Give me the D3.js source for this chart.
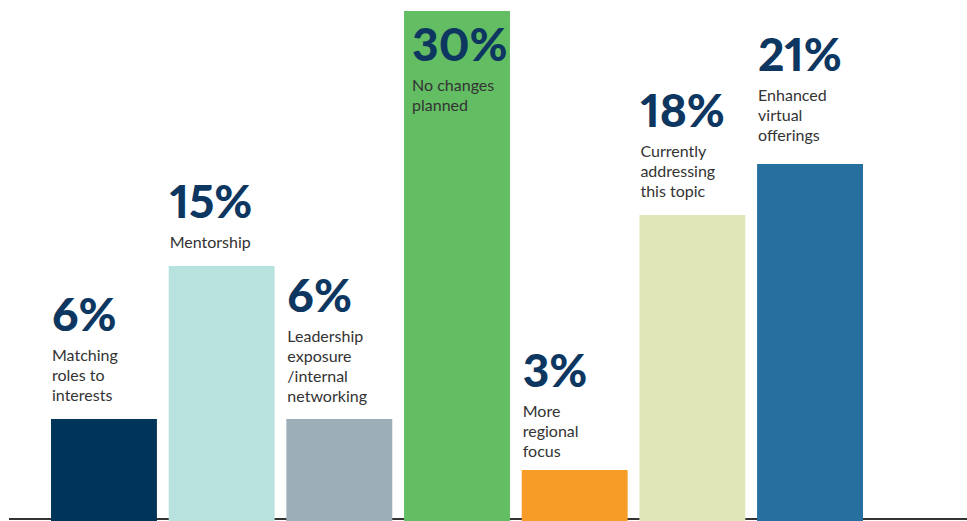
<!DOCTYPE html>
<html>
<head>
<meta charset="utf-8">
<script src="https://cdn.jsdelivr.net/npm/d3@7"></script>
<style>
  html, body { margin: 0; padding: 0; background: #fff; }
  svg { display: block; }
  .pct { font-variant-numeric: proportional-nums; font-feature-settings: "pnum" 1; }
</style>
</head>
<body>
<svg id="chart" width="967" height="521"></svg>
<script>
// Share of respondents by planned change
const categories = [
  "Matching roles to interests",
  "Mentorship",
  "Leadership exposure/internal networking",
  "No changes planned",
  "More regional focus",
  "Currently addressing this topic",
  "Enhanced virtual offerings"
];
const values = [6, 15, 6, 30, 3, 18, 21];
const labelLines = [
  ["Matching", "roles to", "interests"],
  ["Mentorship"],
  ["Leadership", "exposure", "/internal", "networking"],
  ["No changes", "planned"],
  ["More", "regional", "focus"],
  ["Currently", "addressing", "this topic"],
  ["Enhanced", "virtual", "offerings"]
];
const colors = ["#003459", "#b8e2de", "#9caeb6", "#63bd63", "#f89c28", "#e0e6b8", "#266f9e"];

const W = 967, H = 521;
const svg = d3.select("#chart");

const x = d3.scaleBand().domain(categories).range([51, 863]).paddingInner(0.1).paddingOuter(0);
const y = d3.scaleLinear().domain([0, 30]).range([H, 11]);

// baseline
svg.append("line")
  .attr("x1", 9).attr("x2", W)
  .attr("y1", 519).attr("y2", 519)
  .attr("stroke", "#333").attr("stroke-width", 2);

// bars
svg.append("g").selectAll("rect")
  .data(categories)
  .join("rect")
  .attr("x", d => x(d))
  .attr("y", (d, i) => y(values[i]))
  .attr("width", x.bandwidth())
  .attr("height", (d, i) => y(0) - y(values[i]))
  .attr("fill", (d, i) => colors[i]);

// labels: percentage above the description; inside the bar for the tallest one
const maxVal = d3.max(values);
const lineH = 20;
const pctToText = 30;
// space between the last description line and the bar top
const gapAbove = [18, 18, 17, 0, 13, 18, 23];

const labels = svg.append("g").selectAll("g")
  .data(categories)
  .join("g")
  .attr("transform", (d, i) => {
    const top = y(values[i]);
    const n = labelLines[i].length;
    const inside = values[i] === maxVal;
    const pctBase = inside ? top + 50 : top - gapAbove[i] - (n - 1) * lineH - pctToText;
    const dx = inside ? 8 : 1;
    return `translate(${x(d) + dx},${pctBase})`;
  });

labels.append("text")
  .attr("class", "pct")
  .attr("x", 0).attr("y", 0)
  .attr("font-family", "Lato, 'Open Sans', sans-serif")
  .attr("font-weight", 900)
  .attr("font-size", 46)
  .attr("fill", "#0d3761")
  .text((d, i) => values[i] + "%");

labels.each(function(d, i) {
  const t = d3.select(this).append("text")
    .attr("font-family", "Lato, 'Open Sans', sans-serif")
    .attr("font-size", 16)
    .attr("fill", "#333");
  labelLines[i].forEach((ln, k) => {
    t.append("tspan").attr("x", 0).attr("y", pctToText + k * lineH).text(ln);
  });
});
</script>
</body>
</html>
